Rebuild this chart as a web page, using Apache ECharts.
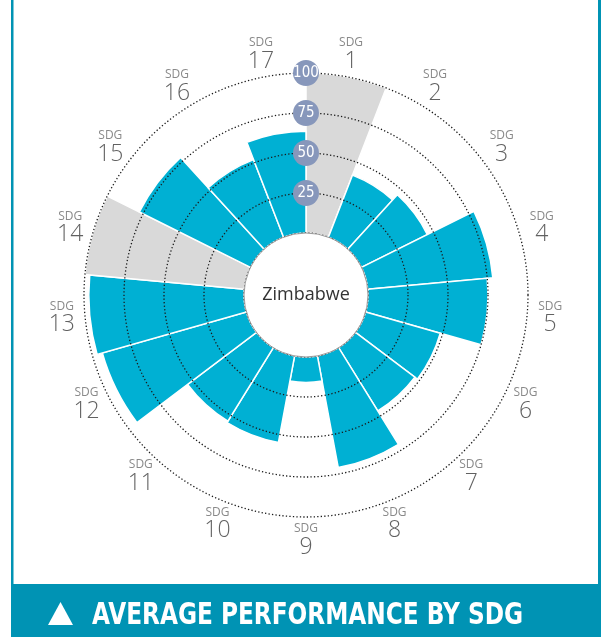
<!DOCTYPE html>
<html>
<head>
<meta charset="utf-8">
<script src="https://cdn.jsdelivr.net/npm/echarts@6/dist/echarts.min.js"></script>
<style>
html,body{margin:0;padding:0;background:#fff;}
#chart{width:601px;height:637px;}
</style>
</head>
<body>
<div id="chart"></div>
<script>
// ---- data ----
const categories = ['1','2','3','4','5','6','7','8','9','10','11','12','13','14','15','16','17'];
// null = no data (drawn as full grey sector)
const scores = [null, 41.6, 46, 78.5, 75, 48.5, 46.5, 71, 16, 55, 54, 93.6, 97, null, 77.6, 52, 63.6];
const radiusTicks = [25, 50, 75, 100];
const countryName = 'Zimbabwe';
const labelPrefix = 'SDG';
const titleText = 'AVERAGE PERFORMANCE BY SDG';

// ---- styling / layout ----
const BLUE = '#00b0d3';
const GREY = '#d9d9d9';
const BADGE = '#8797bb';
const BANNER = '#0093b4';
const CENTER = [306, 295];
const RADIUS = [62, 222];
const LABEL_V = 114.5; // radius-axis value where category labels sit (outside the plot)
const AXIS_MAX = radiusTicks[radiusTicks.length - 1];
const TITLE_FONT = 'bold 31px "Liberation Sans Narrow", "DejaVu Sans Condensed", "DejaVu Sans", sans-serif';
const TITLE_WIDTH = 431;

// fit title width (narrow font substitute)
const ctx = document.createElement('canvas').getContext('2d');
ctx.font = TITLE_FONT;
const titleScale = Math.min(1, TITLE_WIDTH / ctx.measureText(titleText).width);

const barData = scores.map(v => v == null ? {value: AXIS_MAX, itemStyle: {color: GREY}} : v);

const chart = echarts.init(document.getElementById('chart'), null, {renderer: 'canvas'});
chart.setOption({
  animation: false,
  backgroundColor: '#fff',
  polar: [
    {center: CENTER, radius: RADIUS},
    {center: CENTER, radius: RADIUS}
  ],
  angleAxis: [
    {polarIndex: 0, type: 'category', data: categories, startAngle: 90, clockwise: true,
     axisLine: {show: false}, axisTick: {show: false}, axisLabel: {show: false}, splitLine: {show: false}},
    {polarIndex: 1, type: 'category', data: categories, startAngle: 90, clockwise: true,
     axisLine: {show: false}, axisTick: {show: false}, axisLabel: {show: false}, splitLine: {show: false}}
  ],
  radiusAxis: [
    {polarIndex: 0, type: 'value', min: 0, max: AXIS_MAX, interval: radiusTicks[0], z: 10,
     axisLine: {show: false}, axisTick: {show: false}, axisLabel: {show: false},
     splitLine: {show: true, lineStyle: {color: '#1a1a1a', width: 1.3, type: [1.3, 2.2]}}},
    {polarIndex: 1, type: 'value', min: 0, max: AXIS_MAX, interval: radiusTicks[0], z: 12,
     axisLine: {show: false}, axisTick: {show: false}, splitLine: {show: false},
     axisLabel: {
       show: true, showMinLabel: false, margin: 0, align: 'center', verticalAlign: 'middle',
       formatter: v => radiusTicks.indexOf(v) >= 0 ? String(v) : '',
       color: '#fff', fontSize: 15, fontFamily: '"Liberation Sans Narrow", "DejaVu Sans Condensed", sans-serif',
       backgroundColor: BADGE, borderRadius: 13, width: 26, height: 26, lineHeight: 26, padding: 0
     }}
  ],
  series: [
    {
      type: 'bar', coordinateSystem: 'polar', polarIndex: 0, data: barData,
      barCategoryGap: '0%', z: 2,
      itemStyle: {color: BLUE, borderColor: '#fff', borderWidth: 1.5},
      silent: true
    },
    {
      type: 'scatter', coordinateSystem: 'polar', polarIndex: 0, clip: false, z: 3,
      data: categories.map((c, i) => [LABEL_V, i]),
      symbolSize: 1, itemStyle: {color: 'rgba(0,0,0,0)'}, silent: true,
      label: {
        show: true, position: 'inside',
        formatter: p => '{a|' + labelPrefix + '}\n{b|' + categories[p.dataIndex] + '}',
        rich: {
          a: {fontSize: 12, color: '#6b6b6b', lineHeight: 14, align: 'center', fontFamily: '"Open Sans", "Noto Sans", sans-serif'},
          b: {fontSize: 23, color: '#3a3a3a', lineHeight: 23, align: 'center', fontWeight: 300, fontFamily: '"Open Sans", "Noto Sans", sans-serif'}
        }
      }
    },
    {
      type: 'pie', center: CENTER, radius: [0, RADIUS[0]], z: 20, silent: true,
      data: [{value: 1, name: countryName}],
      itemStyle: {color: '#fff', borderColor: '#9a9a9a', borderWidth: 1},
      label: {show: true, position: 'center', formatter: countryName, fontSize: 18, color: '#333',
              fontFamily: '"Open Sans", "Noto Sans", sans-serif'},
      labelLine: {show: false}, emphasis: {disabled: true}
    }
  ],
  graphic: [
    {type: 'rect', shape: {x: 11, y: 0, width: 2.5, height: 637}, style: {fill: BANNER}, z: 100},
    {type: 'rect', shape: {x: 598, y: 0, width: 3, height: 637}, style: {fill: BANNER}, z: 100},
    {type: 'rect', shape: {x: 11, y: 584, width: 590, height: 53}, style: {fill: BANNER}, z: 100},
    {type: 'polygon', shape: {points: [[48, 625], [60.5, 602], [73, 625]]}, style: {fill: '#fff'}, z: 101},
    {type: 'text', x: 92, y: 616, scaleX: titleScale, z: 101,
     style: {text: titleText, fill: '#fff', font: TITLE_FONT, align: 'left', verticalAlign: 'middle'}}
  ]
});
</script>
</body>
</html>
